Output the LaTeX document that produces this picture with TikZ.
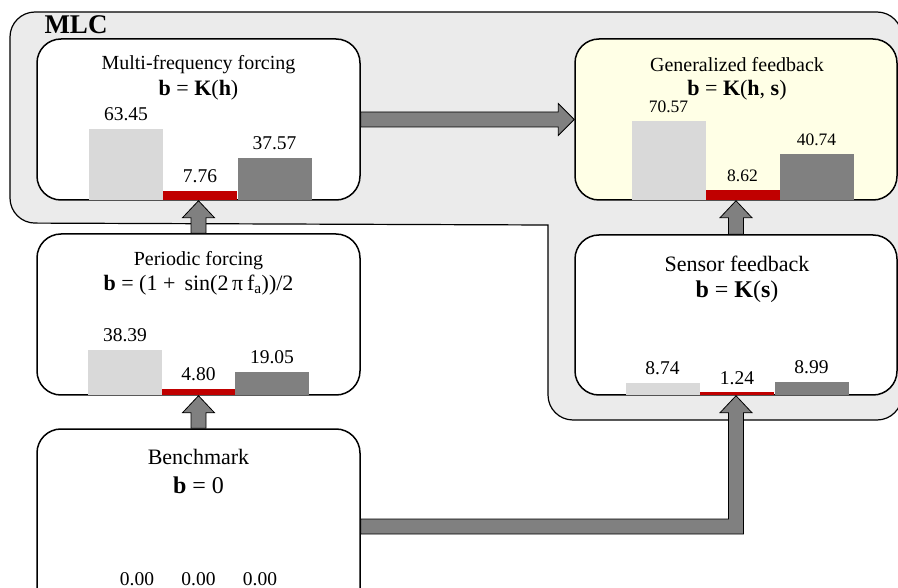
\documentclass[tikz,border=0pt]{standalone}
\usepackage{fontspec}
\setmainfont{Liberation Serif}
\usetikzlibrary{calc,positioning}
\definecolor{mlcgray}{RGB}{235,235,235}
\definecolor{barlight}{RGB}{217,217,217}
\definecolor{barred}{RGB}{192,0,0}
\definecolor{bardark}{RGB}{128,128,128}
\definecolor{paleyellow}{RGB}{255,255,230}
\tikzset{
  panel/.style={draw, line width=1.5pt, rounded corners=24pt, fill=white, minimum width=323pt, minimum height=161pt, inner sep=0pt},
  ttl/.style={font=\fontsize{20}{24}\selectfont, inner sep=1pt},
  ttlbig/.style={font=\fontsize{22}{26}\selectfont, inner sep=1pt},
  frm/.style={font=\fontsize{22}{26}\selectfont, inner sep=1pt},
  frmbig/.style={font=\fontsize{24}{28}\selectfont, inner sep=1pt},
  num/.style={font=\fontsize{19.5}{23}\selectfont, inner sep=1pt},
  numsmall/.style={font=\fontsize{17.5}{21}\selectfont, inner sep=1pt},
  bar/.style={anchor=south, minimum width=74pt, inner sep=0pt, outer sep=0pt},
  blk/.style={draw=black, line width=0.8pt, fill=bardark},
}
\begin{document}
\begin{tikzpicture}[x=1pt, y=-1pt]
\useasboundingbox (0,0) rectangle (898,588);
% MLC region
\draw[line width=1.2pt, fill=mlcgray, rounded corners=25pt] (10,12) -- (902,12) -- (902,420) -- (548,420) [sharp corners] -- (548,225) [rounded corners=25pt] -- (10,223) -- cycle;
\node[font=\fontsize{27}{30}\selectfont\bfseries, inner sep=0pt] (mlc) at (76,25) {MLC};

% panels
\node[panel] (multi) at (198.5,119.5) {};
\node[panel, fill=paleyellow, minimum width=322pt] (gen) at (736,119.5) {};
\node[panel] (periodic) at (198.5,314.5) {};
\node[panel, minimum width=322pt, minimum height=160pt] (sensor) at (736,315) {};
\node[panel, minimum height=195pt] (bench) at (198.5,526.5) {};

% block arrows
\draw[blk] ($(bench.north)+(-7.5,0)$) -- ($(periodic.south)+(-7.5,17)$) -- ($(periodic.south)+(-16,17)$) -- (periodic.south) -- ($(periodic.south)+(16,17)$) -- ($(periodic.south)+(7.5,17)$) -- ($(bench.north)+(7.5,0)$) -- cycle;
\draw[blk] ($(periodic.north)+(-7.5,0)$) -- ($(multi.south)+(-7.5,17)$) -- ($(multi.south)+(-16,17)$) -- (multi.south) -- ($(multi.south)+(16,17)$) -- ($(multi.south)+(7.5,17)$) -- ($(periodic.north)+(7.5,0)$) -- cycle;
\draw[blk] ($(sensor.north)+(-7.5,0)$) -- ($(gen.south)+(-7.5,17)$) -- ($(gen.south)+(-16,17)$) -- (gen.south) -- ($(gen.south)+(16,17)$) -- ($(gen.south)+(7.5,17)$) -- ($(sensor.north)+(7.5,0)$) -- cycle;
\draw[blk] ($(multi.east)+(0,-7.5)$) -- ($(gen.west)+(-16,-7.5)$) -- ($(gen.west)+(-16,-16)$) -- (gen.west) -- ($(gen.west)+(-16,16)$) -- ($(gen.west)+(-16,7.5)$) -- ($(multi.east)+(0,7.5)$) -- cycle;
\coordinate (elbow) at (sensor.south |- bench.east);
\draw[blk] ($(bench.east)+(0,-7.5)$) -- ($(elbow)+(-7.5,-7.5)$) -- ($(sensor.south)+(-7.5,17)$) -- ($(sensor.south)+(-16,17)$) -- (sensor.south) -- ($(sensor.south)+(16,17)$) -- ($(sensor.south)+(7.5,17)$) -- ($(elbow)+(7.5,7.5)$) -- ($(bench.east)+(0,7.5)$) -- cycle;

% multi-frequency forcing
\node[ttl] (multi-t) at (198.5,65) {Multi-frequency forcing};
\node[frm] (multi-f) at (198.5,90) {\textbf{b} = \textbf{K}(\textbf{h})};
\node[bar, fill=barlight, minimum height=71pt] (multi-a) at (126,200) {};
\node[bar, fill=barred, minimum height=9pt] (multi-b) at (200,200) {};
\node[bar, fill=bardark, minimum height=42pt] (multi-c) at (274.5,200) {};
\node[num, above=7pt of multi-a] (multi-na) {63.45};
\node[num, above=7pt of multi-b] (multi-nb) {7.76};
\node[num, above=7pt of multi-c] (multi-nc) {37.57};

% generalized feedback
\node[ttl] (gen-t) at (737,65) {Generalized feedback};
\node[frm] (gen-f) at (737,90) {\textbf{b} = \textbf{K}(\textbf{h}, \textbf{s})};
\node[bar, fill=barlight, minimum height=79pt] (gen-a) at (668.5,200) {};
\node[bar, fill=barred, minimum height=10pt] (gen-b) at (742.5,200) {};
\node[bar, fill=bardark, minimum height=46pt] (gen-c) at (816.5,200) {};
\node[numsmall, above=7pt of gen-a] (gen-na) {70.57};
\node[numsmall, above=7pt of gen-b] (gen-nb) {8.62};
\node[numsmall, above=7pt of gen-c] (gen-nc) {40.74};

% periodic forcing
\node[ttl] (periodic-t) at (198.5,261) {Periodic forcing};
\node[frm] (periodic-f) at (198.5,285) {\textbf{b} = (1 + \,sin(2\,π\,f\textsubscript{a}))/2};
\node[bar, fill=barlight, minimum height=45pt] (periodic-a) at (125,395) {};
\node[bar, fill=barred, minimum height=6pt] (periodic-b) at (198.5,395) {};
\node[bar, fill=bardark, minimum height=23pt] (periodic-c) at (272,395) {};
\node[num, above=7pt of periodic-a] (periodic-na) {38.39};
\node[num, above=7pt of periodic-b] (periodic-nb) {4.80};
\node[num, above=7pt of periodic-c] (periodic-nc) {19.05};

% sensor feedback
\node[ttlbig] (sensor-t) at (737,264) {Sensor feedback};
\node[frmbig] (sensor-f) at (737,292) {\textbf{b} = \textbf{K}(\textbf{s})};
\node[bar, fill=barlight, minimum height=12pt] (sensor-a) at (662.5,395) {};
\node[bar, fill=barred, minimum height=2.5pt] (sensor-b) at (737,395) {};
\node[bar, fill=bardark, minimum height=13pt] (sensor-c) at (811.5,395) {};
\node[num, above=7pt of sensor-a] (sensor-na) {8.74};
\node[num, above=7pt of sensor-b] (sensor-nb) {1.24};
\node[num, above=7pt of sensor-c] (sensor-nc) {8.99};

% benchmark
\node[ttlbig] (bench-t) at (198.5,457) {Benchmark};
\node[frmbig] (bench-f) at (198.5,485) {\textbf{b} = 0};
\node[num] (bench-na) at (137,579) {0.00};
\node[num] (bench-nb) at (198.5,579) {0.00};
\node[num] (bench-nc) at (260,579) {0.00};
\end{tikzpicture}
\end{document}
